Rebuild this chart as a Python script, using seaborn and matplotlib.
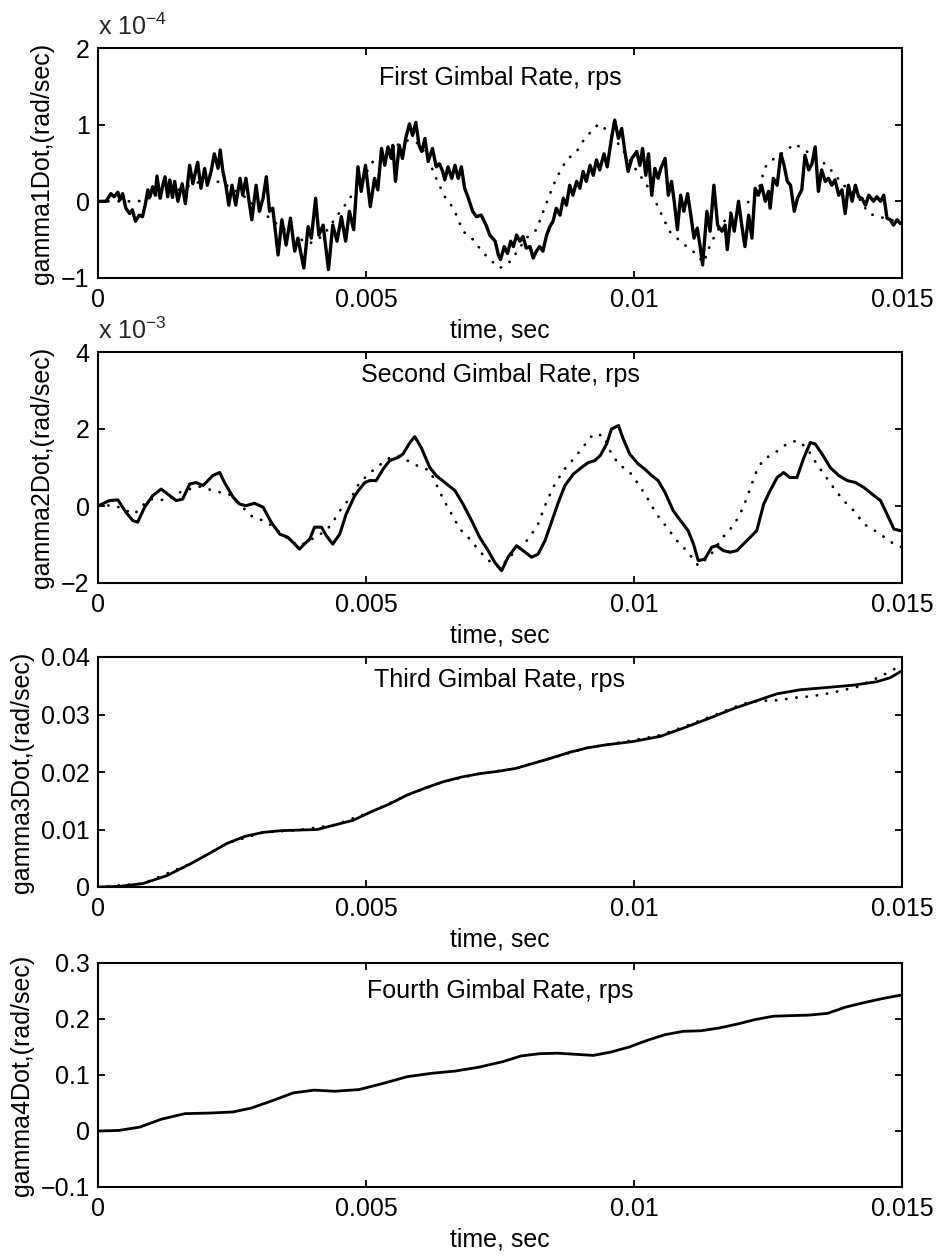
import numpy as np
import matplotlib
matplotlib.use("Agg")
import matplotlib.pyplot as plt
import seaborn as sns
from matplotlib.ticker import FuncFormatter, FixedLocator

# ---------------- data (time in ms, values in displayed units) ----------------
g1_t = [0.00, 0.15, 0.24, 0.30, 0.37, 0.41, 0.46, 0.52, 0.59, 0.64, 0.70, 0.77, 0.83, 0.88, 0.93, 0.97,
        1.02, 1.07, 1.10, 1.16, 1.21, 1.25, 1.30, 1.34, 1.39, 1.43, 1.49, 1.57, 1.63, 1.71, 1.77, 1.86,
        1.92, 1.99, 2.04, 2.11, 2.17, 2.24, 2.28, 2.33, 2.39, 2.44, 2.50, 2.57, 2.65, 2.70, 2.76, 2.81,
        2.87, 2.95, 3.01, 3.08, 3.14, 3.20, 3.26, 3.36, 3.43, 3.51, 3.59, 3.67, 3.73, 3.84, 3.92, 3.98,
        4.06, 4.12, 4.20, 4.30, 4.38, 4.46, 4.54, 4.62, 4.69, 4.77, 4.85, 4.91, 4.99, 5.08,
        5.16, 5.22, 5.29, 5.35, 5.41, 5.47, 5.50, 5.55, 5.62, 5.68, 5.74, 5.81, 5.87, 5.93, 5.99, 6.04,
        6.10, 6.16, 6.24, 6.31, 6.37, 6.43, 6.47, 6.53, 6.60, 6.66, 6.72, 6.78, 6.84, 6.91, 6.99, 7.06,
        7.15, 7.24, 7.31, 7.41, 7.47, 7.51, 7.58, 7.64, 7.70, 7.75, 7.81, 7.87, 7.93, 7.99, 8.06, 8.12,
        8.18, 8.24, 8.30, 8.37, 8.43, 8.49, 8.55, 8.62, 8.68, 8.74, 8.80, 8.86, 8.93, 8.99, 9.05, 9.11,
        9.18, 9.24, 9.30, 9.36, 9.44, 9.50, 9.58, 9.64, 9.71, 9.77, 9.83, 9.89, 9.96,
        10.05, 10.11, 10.16, 10.22, 10.27, 10.33, 10.39, 10.45, 10.50, 10.58, 10.64, 10.70, 10.75, 10.81,
        10.87, 10.93, 11.00, 11.06, 11.12, 11.18, 11.23, 11.28, 11.36, 11.42, 11.49, 11.56, 11.64, 11.70,
        11.74, 11.81, 11.87, 11.95, 12.01, 12.07, 12.14, 12.20, 12.26, 12.32, 12.38, 12.45, 12.51, 12.54,
        12.60, 12.67, 12.74, 12.80, 12.86, 12.92, 12.99, 13.05, 13.13, 13.19, 13.26, 13.32, 13.38, 13.44,
        13.50, 13.57, 13.63, 13.69, 13.75, 13.82, 13.88, 13.94, 14.00, 14.07, 14.13, 14.19, 14.25, 14.32,
        14.38, 14.47, 14.53, 14.60, 14.66, 14.72, 14.78, 14.84, 14.91, 14.97]
g1_solid = [0.0, 0.0, 0.10, 0.06, 0.12, 0.02, 0.10, -0.09, -0.16, -0.11, -0.26, -0.18, -0.20, -0.05, 0.15, 0.06,
            0.19, 0.08, 0.33, 0.04, 0.21, 0.32, 0.06, 0.28, 0.05, 0.26, 0.0, 0.23, -0.03, 0.47, 0.23, 0.51,
            0.17, 0.43, 0.21, 0.39, 0.62, 0.43, 0.67, 0.39, 0.19, -0.05, 0.21, -0.05, 0.30, 0.08, 0.30, 0.04,
            -0.24, 0.21, -0.13, 0.04, 0.32, -0.13, -0.09, -0.70, -0.24, -0.57, -0.22, -0.65, -0.48, -0.87, -0.33, -0.48,
            0.04, -0.44, -0.31, -0.89, -0.31, -0.52, -0.20, -0.52, -0.13, -0.37, 0.45, 0.13, 0.47, -0.07,
            0.30, 0.15, 0.69, 0.47, 0.71, 0.56, 0.73, 0.26, 0.73, 0.56, 0.82, 1.01, 0.86, 1.03, 0.73, 0.65,
            0.82, 0.52, 0.69, 0.45, 0.49, 0.39, 0.28, 0.45, 0.30, 0.47, 0.30, 0.45, 0.17, 0.04, -0.13, -0.20,
            -0.18, -0.31, -0.44, -0.52, -0.70, -0.76, -0.59, -0.68, -0.52, -0.59, -0.44, -0.52, -0.46, -0.61, -0.59, -0.74,
            -0.65, -0.59, -0.65, -0.44, -0.33, -0.26, -0.09, -0.18, 0.04, -0.05, 0.21, 0.08, 0.26, 0.17, 0.39, 0.26,
            0.47, 0.34, 0.54, 0.41, 0.62, 0.45, 0.82, 1.06, 0.82, 0.95, 0.65, 0.39, 0.56,
            0.65, 0.47, 0.69, 0.34, 0.62, 0.08, 0.43, 0.30, 0.43, 0.56, 0.08, 0.26, 0.00, -0.37,
            0.08, -0.13, 0.10, -0.18, -0.48, -0.35, -0.57, -0.83, -0.13, -0.39, 0.21, -0.31, -0.39, -0.31,
            -0.63, -0.16, -0.39, 0.00, -0.31, -0.59, -0.18, -0.48, 0.17, 0.08, 0.21, 0.00, 0.13, -0.09,
            0.30, 0.21, 0.62, 0.47, 0.26, 0.21, -0.13, 0.04, 0.15, 0.60, 0.41, 0.49, 0.71, 0.13,
            0.41, 0.26, 0.30, 0.21, 0.28, 0.08, 0.15, -0.16, 0.21, 0.00, 0.21, 0.06, 0.04, -0.05,
            0.08, 0.00, 0.06, 0.00, 0.08, -0.22, -0.24, -0.31, -0.24, -0.29]
g1_ref_t = [0.0, 0.4, 0.75, 1.0, 1.5, 2.0, 2.3, 2.7, 3.0, 3.36, 3.7, 3.95, 4.2, 4.45, 4.66, 4.9, 5.13, 5.35,
            5.57, 5.8, 6.0, 6.16, 6.31, 6.47, 6.63, 6.81, 7.0, 7.16, 7.31, 7.5, 7.7, 7.99, 8.18, 8.40, 8.55,
            8.74, 8.93, 9.08, 9.34, 9.55, 9.8, 10.05, 10.24, 10.42, 10.66, 10.91, 11.1, 11.3, 11.42, 11.55,
            11.8, 12.10, 12.30, 12.45, 12.6, 12.85, 13.0, 13.29, 13.60, 13.91, 14.16, 14.38, 14.57, 15.0]
g1_ref = [0.0, 0.0, 0.0, 0.05, 0.15, 0.28, 0.25, 0.08, -0.10, -0.31, -0.47, -0.55, -0.45, -0.20, 0.0, 0.25,
          0.52, 0.62, 0.73, 0.80, 0.75, 0.55, 0.30, 0.06, -0.09, -0.39, -0.50, -0.65, -0.76, -0.87, -0.78,
          -0.48, -0.37, 0.04, 0.30, 0.54, 0.65, 0.82, 1.01, 0.90, 0.66, 0.40, 0.21, -0.03, -0.39, -0.55,
          -0.65, -0.80, -0.57, -0.39, -0.15, -0.03, 0.10, 0.45, 0.55, 0.67, 0.75, 0.62, 0.47, 0.21, 0.08,
          -0.16, -0.20, -0.28]

g2_t = [0.0, 0.21, 0.37, 0.52, 0.65, 0.74, 0.87, 1.02, 1.18, 1.30, 1.46, 1.58, 1.71, 1.83, 1.96, 2.05, 2.14,
        2.27, 2.36, 2.52, 2.64, 2.76, 2.92, 3.08, 3.23, 3.39, 3.54, 3.67, 3.76, 3.85, 3.95, 4.04, 4.17, 4.26,
        4.38, 4.51, 4.63, 4.79, 4.88, 4.98, 5.07, 5.19, 5.32, 5.44, 5.60, 5.69, 5.82, 5.91, 6.03, 6.19, 6.31,
        6.47, 6.66, 6.81, 6.97, 7.12, 7.28, 7.40, 7.53, 7.65, 7.81, 7.93, 8.09, 8.21, 8.34, 8.46, 8.59, 8.71,
        8.87, 9.02, 9.15, 9.27, 9.37, 9.49, 9.58, 9.71, 9.80, 9.92, 10.08, 10.20, 10.33, 10.45, 10.58, 10.73,
        10.89, 11.01, 11.11, 11.20, 11.32, 11.45, 11.54, 11.67, 11.79, 11.92, 12.04, 12.17, 12.29, 12.42,
        12.54, 12.67, 12.79, 12.91, 13.04, 13.16, 13.29, 13.38, 13.51, 13.66, 13.82, 13.98, 14.13, 14.29,
        14.44, 14.60, 14.72, 14.85, 14.97]
g2_solid = [0.0, 0.14, 0.16, -0.16, -0.38, -0.42, -0.03, 0.27, 0.44, 0.31, 0.14, 0.18, 0.57, 0.61, 0.53, 0.66,
            0.79, 0.87, 0.61, 0.23, 0.05, 0.01, 0.07, -0.03, -0.42, -0.73, -0.81, -0.99, -1.12, -0.99, -0.86,
            -0.55, -0.55, -0.77, -0.99, -0.73, -0.21, 0.27, 0.44, 0.61, 0.66, 0.66, 0.96, 1.18, 1.26, 1.35,
            1.65, 1.80, 1.52, 1.00, 0.79, 0.61, 0.40, 0.05, -0.38, -0.81, -1.16, -1.46, -1.68, -1.33, -1.03,
            -1.16, -1.33, -1.25, -0.90, -0.42, 0.10, 0.53, 0.83, 1.00, 1.13, 1.18, 1.31, 1.61, 2.00, 2.09,
            1.74, 1.35, 1.09, 0.96, 0.79, 0.66, 0.35, -0.12, -0.42, -0.64, -0.99, -1.42, -1.38, -1.07, -1.03,
            -1.16, -1.20, -1.16, -0.99, -0.81, -0.64, 0.05, 0.40, 0.74, 0.87, 0.74, 0.74, 1.22, 1.65, 1.61,
            1.35, 1.00, 0.79, 0.66, 0.61, 0.48, 0.31, 0.14, -0.21, -0.60, -0.64]
g2_ref_t = [0.0, 0.3, 0.68, 0.80, 0.96, 1.3, 1.58, 1.9, 2.2, 2.45, 2.89, 3.08, 3.20, 3.45, 3.75, 4.0, 4.26,
            4.38, 4.57, 4.73, 4.88, 5.19, 5.44, 5.63, 5.75, 5.88, 6.19, 6.31, 6.44, 6.63, 6.75, 6.88, 7.06,
            7.22, 7.40, 7.53, 7.62, 8.03, 8.21, 8.34, 8.49, 8.68, 8.87, 9.02, 9.24, 9.43, 9.58, 9.74, 9.90,
            10.08, 10.24, 10.42, 10.61, 10.80, 10.98, 11.20, 11.42, 11.73, 11.86, 12.04, 12.29, 12.42, 12.60,
            12.85, 13.04, 13.22, 13.41, 13.72, 13.91, 14.10, 14.29, 14.54, 14.85, 15.0]
g2_ref = [0.0, 0.02, -0.21, -0.03, 0.18, 0.15, 0.40, 0.50, 0.38, 0.30, -0.29, -0.38, -0.47, -0.75, -1.05,
          -0.85, -0.64, -0.42, 0.0, 0.23, 0.61, 1.00, 1.25, 1.30, 1.20, 1.09, 0.92, 0.57, 0.18, -0.29, -0.60,
          -0.77, -1.07, -1.33, -1.55, -1.60, -1.40, -0.86, -0.47, 0.01, 0.48, 0.92, 1.22, 1.48, 1.87, 1.83,
          1.35, 1.05, 0.92, 0.57, 0.23, -0.21, -0.55, -0.90, -1.16, -1.55, -1.29, -0.68, -0.51, -0.03, 0.92,
          1.22, 1.35, 1.61, 1.70, 1.52, 1.09, 0.48, 0.14, -0.12, -0.47, -0.68, -0.99, -1.07]

g3_t = [0, 0.39, 0.84, 1.29, 1.74, 2.07, 2.41, 2.74, 3.08, 3.42, 3.75, 4.09, 4.42, 4.76, 5.10, 5.43, 5.77,
        6.10, 6.44, 6.77, 7.11, 7.45, 7.78, 8.12, 8.45, 8.79, 9.13, 9.46, 9.98, 10.49, 10.91, 11.42, 11.85,
        12.29, 12.67, 13.10, 13.60, 14.09, 14.53, 14.78, 15.0]
g3_solid = [0, 0.01, 0.06, 0.20, 0.41, 0.58, 0.76, 0.88, 0.95, 0.98, 0.99, 1.00, 1.08, 1.16, 1.31, 1.44,
            1.60, 1.72, 1.83, 1.91, 1.97, 2.01, 2.06, 2.15, 2.24, 2.34, 2.42, 2.47, 2.53, 2.62, 2.76, 2.94,
            3.10, 3.24, 3.36, 3.43, 3.47, 3.51, 3.57, 3.64, 3.76]
g3_ref_t = [0, 0.84, 1.74, 2.41, 3.08, 3.75, 4.42, 5.10, 5.77, 6.44, 7.11, 7.78, 8.45, 9.13, 9.98, 10.49,
            10.91, 11.42, 11.85, 12.16, 12.45, 12.72, 12.97, 13.34, 13.7, 14.16, 14.46, 14.72, 15.0]
g3_ref = [0, 0.06, 0.41, 0.76, 0.95, 0.99, 1.08, 1.31, 1.60, 1.83, 1.97, 2.06, 2.24, 2.42, 2.55, 2.64,
          2.78, 2.96, 3.12, 3.22, 3.24, 3.25, 3.29, 3.32, 3.38, 3.48, 3.60, 3.72, 3.86]

g4_t = [0, 0.39, 0.78, 1.18, 1.62, 2.07, 2.52, 2.86, 3.25, 3.64, 4.03, 4.42, 4.87, 5.32, 5.77, 6.22, 6.66,
        7.11, 7.56, 7.89, 8.23, 8.57, 8.90, 9.24, 9.57, 9.91, 10.25, 10.58, 10.92, 11.25, 11.59, 11.93,
        12.26, 12.60, 12.93, 13.27, 13.61, 13.94, 14.28, 14.61, 15.0]
g4_solid = [0.000, 0.001, 0.007, 0.021, 0.031, 0.032, 0.034, 0.041, 0.054, 0.068, 0.073, 0.071, 0.074,
            0.085, 0.097, 0.103, 0.107, 0.114, 0.124, 0.134, 0.138, 0.139, 0.137, 0.135, 0.141, 0.150,
            0.162, 0.172, 0.178, 0.179, 0.184, 0.191, 0.199, 0.205, 0.206, 0.207, 0.210, 0.221, 0.229,
            0.236, 0.243]

titles = ["First Gimbal Rate, rps", "Second Gimbal Rate, rps",
          "Third Gimbal Rate, rps", "Fourth Gimbal Rate, rps"]
ylabels = ["gamma1Dot,(rad/sec)", "gamma2Dot,(rad/sec)",
           "gamma3Dot,(rad/sec)", "gamma4Dot,(rad/sec)"]
x_ticks = [0, 0.005, 0.01, 0.015]
y_ticks = [[-1e-4, 0, 1e-4, 2e-4], [-2e-3, 0, 2e-3, 4e-3],
           [0, 0.01, 0.02, 0.03, 0.04], [-0.1, 0, 0.1, 0.2, 0.3]]
y_scale = [1e-4, 1e-3, 1e-2, 1.0]          # unit of the stored values
y_offset_label = [r"x 10$^{-4}$", r"x 10$^{-3}$", None, None]

# ---------------- style ----------------
sns.set_theme(style="ticks")
plt.rcParams["font.family"] = ["Liberation Sans", "DejaVu Sans"]
plt.rcParams["mathtext.fontset"] = "custom"
plt.rcParams["mathtext.rm"] = "Liberation Sans"
plt.rcParams["mathtext.it"] = "Liberation Sans:italic"
plt.rcParams["mathtext.default"] = "regular"
FS = 18

fig = plt.figure(figsize=(9.37, 12.56), dpi=100)
H = 1256.0
Wpx = 937.0
boxes = [(48, 278), (352, 583), (657, 887), (963, 1187)]
left_px, right_px = 98, 902
title_y = [0.84, 0.87, 0.87, 0.845]
ylab_x = [-0.055, -0.055, -0.08, -0.08]

solid = [(g1_t, g1_solid), (g2_t, g2_solid), (g3_t, g3_solid), (g4_t, g4_solid)]
refs = [(g1_ref_t, g1_ref), (g2_ref_t, g2_ref), (g3_ref_t, g3_ref), None]
solid_lw = [2.4, 2.2, 2.0, 2.0]


def fmt(v, pos, s):
    txt = f"{round(v / s, 6):g}"
    return txt.replace("-", "\u2212")


for i, (top, bot) in enumerate(boxes):
    ax = fig.add_axes([left_px / Wpx, 1 - bot / H, (right_px - left_px) / Wpx, (bot - top) / H])
    s = y_scale[i]
    if refs[i] is not None:
        rt, rv = refs[i]
        sns.lineplot(x=np.array(rt) * 1e-3, y=np.array(rv) * s, ax=ax, color="black",
                     linewidth=2.0, sort=False, estimator=None)
        ln = ax.lines[-1]
        ln.set_linestyle((0, (0.1, 3.6)))
        ln.set_dash_capstyle("round")
    st, sv = solid[i]
    sns.lineplot(x=np.array(st) * 1e-3, y=np.array(sv) * s, ax=ax, color="black",
                 linewidth=solid_lw[i], sort=False, estimator=None)

    ax.set_xlim(0, 0.015)
    ax.set_ylim(y_ticks[i][0], y_ticks[i][-1])
    ax.xaxis.set_major_locator(FixedLocator(x_ticks))
    ax.yaxis.set_major_locator(FixedLocator(y_ticks[i]))
    ax.xaxis.set_major_formatter(FuncFormatter(lambda v, p: fmt(v, p, 1.0)))
    if y_offset_label[i] is not None:
        ax.yaxis.set_major_formatter(FuncFormatter(lambda v, p, s=s: fmt(v, p, s)))
        ax.text(0.0, 1.035, y_offset_label[i], transform=ax.transAxes, ha="left",
                va="bottom", fontsize=FS)
    else:
        ax.yaxis.set_major_formatter(FuncFormatter(lambda v, p: fmt(v, p, 1.0)))

    for sp in ax.spines.values():
        sp.set_visible(True)
        sp.set_color("black")
        sp.set_linewidth(1.5)
    ax.tick_params(axis="both", which="major", direction="in", top=True, right=True,
                   length=5, width=1.3, colors="black", labelsize=FS)
    ax.tick_params(axis="x", pad=7)
    ax.tick_params(axis="y", pad=6)
    ax.grid(False)
    ax.set_facecolor("white")

    ax.text(0.5, title_y[i], titles[i], transform=ax.transAxes, ha="center",
            va="baseline", fontsize=FS, color="black")
    ax.set_xlabel("time, sec", fontsize=FS, labelpad=5, color="black")
    ax.set_ylabel(ylabels[i], fontsize=FS, color="black")
    ax.yaxis.set_label_coords(ylab_x[i], 0.5)

fig.savefig("out.png", dpi=100, facecolor="white")
